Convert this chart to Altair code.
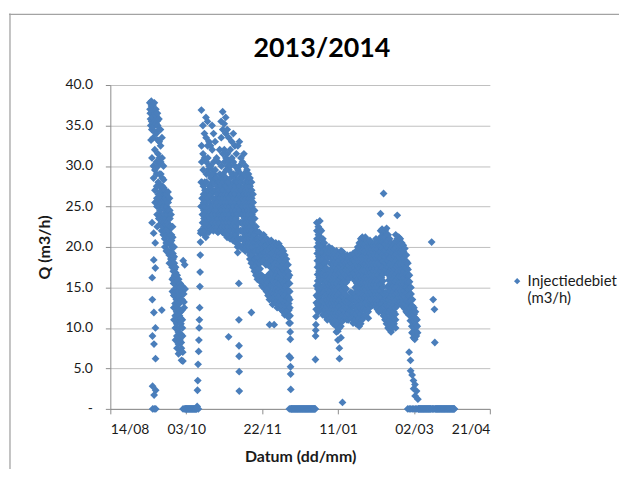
import altair as alt
import pandas as pd

title_text = "2013/2014"
series_name = "Injectiedebiet (m3/h)"
x_title = "Datum (dd/mm)"
y_title = "Q (m3/h)"
x_tick_dates = [(2013, 8, 14), (2013, 10, 3), (2013, 11, 22), (2014, 1, 11), (2014, 3, 2), (2014, 4, 21)]
y_tick_values = [0, 5, 10, 15, 20, 25, 30, 35, 40]

# readings per day (several per day), consecutive days from the start date
run1_start = "2013-09-09"
run1 = [
    [37.8, 37.0, 36.5, 35.8, 35.0, 33.2],
    [38.0, 37.4, 36.6, 35.5, 34.5, 31.0, 23.0, 16.2, 13.5, 9.0, 2.8, 0.0],
    [37.5, 36.8, 36.0, 34.8, 33.5, 30.0, 28.5, 21.7, 18.4, 11.9, 8.0, 1.7, 0.0],
    [37.8, 36.4, 35.5, 34.2, 32.0, 29.5, 27.0, 25.5, 20.5, 17.4, 10.0, 6.2, 2.3, 0.0],
    [37.0, 36.2, 35.2, 34.0, 30.5, 29.0, 27.5, 26.0, 25.0, 24.0, 22.5],
    [36.5, 35.6, 35.0, 33.2, 31.5, 30.0, 28.0, 26.5, 25.5, 25.0, 23.5],
    [35.8, 34.5, 33.0, 31.0, 29.0, 27.5, 26.8, 26.0, 24.5, 22.8],
    [34.5, 32.5, 30.5, 29.0, 27.5, 26.5, 25.5, 24.0, 23.0, 22.0, 12.2],
    [33.5, 31.0, 28.5, 27.5, 27.0, 26.0, 25.0, 23.5, 22.5, 21.5],
    [30.0, 28.3, 27.3, 26.5, 25.8, 25.0, 24.0, 23.0, 22.0, 21.0, 20.0],
    [27.0, 26.4, 26.0, 25.5, 24.5, 23.5, 22.8, 22.0, 20.5, 19.5],
    [26.5, 25.8, 25.0, 24.0, 23.0, 22.2, 21.5, 20.5, 19.5],
    [26.8, 25.5, 24.5, 23.5, 22.8, 22.0, 21.2, 20.5, 19.0, 18.0],
    [26.0, 24.5, 23.5, 22.5, 21.5, 20.5, 19.5, 18.5],
    [24.0, 22.5, 21.5, 20.8, 20.0, 19.0, 18.2, 17.5, 16.0, 14.5],
    [22.5, 21.2, 20.0, 19.2, 18.5, 17.8, 17.0, 16.2, 15.5, 14.0, 12.5, 11.0],
    [20.0, 18.8, 18.0, 17.2, 16.5, 15.5, 14.8, 14.2, 13.0, 11.5, 10.0, 8.5],
    [17.5, 16.8, 16.2, 15.5, 14.8, 14.5, 13.5, 12.8, 12.0, 10.5, 9.0, 7.5],
    [16.5, 15.8, 15.0, 14.5, 14.0, 13.2, 12.5, 11.8, 11.0, 9.5, 8.0, 6.8],
    [16.0, 15.2, 14.5, 13.8, 13.0, 12.2, 11.5, 10.8, 10.0, 8.5, 7.0],
    [15.5, 15.0, 14.0, 13.2, 12.0, 11.2, 10.5, 9.2, 8.2, 7.5, 6.0],
    [15.2, 14.5, 13.5, 12.2, 11.0, 10.0, 9.0, 7.0, 5.9, 0.0],
    [18.3, 15.0, 14.2, 13.2, 12.5, 0.0],
    [17.8, 14.8, 0.0, 0.0],
]

stop1_start = "2013-10-03"
stop1 = [
    [0, 0, 0], [0, 0, 0], [0, 0, 0], [0, 0, 0], [0, 0, 0], [0, 0, 0], [0, 0, 0],
]

run2_start = "2013-10-10"
run2 = [
    [0.0, 0.3, 2.3, 3.5, 5.5],
    [0.0, 7.1, 8.5, 10.0, 11.0, 12.5],
    [15.1, 16.9, 19.0, 20.6, 21.7, 22.0, 25.0, 28.0],
    [36.9, 32.5, 30.5, 28.0, 26.0, 25.0, 24.0, 23.0, 22.0],
    [35.0, 31.5, 29.5, 27.5, 26.5, 25.5, 24.5, 23.5, 22.5, 21.5],
    [34.0, 31.0, 28.0, 27.0, 26.0, 25.0, 24.0, 23.0, 22.0, 21.2],
    [36.0, 33.5, 30.5, 29.0, 28.0, 26.5, 25.5, 24.5, 23.5, 22.5],
    [35.5, 32.5, 31.0, 29.5, 27.0, 26.0, 24.8, 23.8, 22.8, 21.8],
    [33.0, 30.0, 29.0, 27.5, 26.5, 25.5, 24.5, 23.5, 22.5],
    [32.5, 30.0, 28.5, 27.5, 26.5, 25.0, 24.0, 23.0, 22.2],
    [35.0, 32.0, 29.5, 28.0, 27.0, 26.0, 25.0, 24.0, 23.0, 22.0],
    [34.0, 30.5, 29.0, 28.0, 26.8, 25.5, 24.5, 23.5, 22.5],
    [33.0, 29.5, 28.5, 27.0, 26.0, 25.0, 24.0, 23.0, 22.0],
    [31.0, 28.5, 27.5, 26.5, 25.5, 24.5, 23.5, 22.5, 21.8],
    [30.5, 28.0, 27.0, 26.0, 25.0, 24.0, 23.0, 22.0],
    [32.0, 29.0, 28.0, 27.0, 26.0, 25.0, 24.0, 23.0, 22.2],
    [35.5, 33.5, 30.0, 28.5, 27.5, 26.5, 25.5, 24.5, 23.5, 22.5, 21.8],
    [36.7, 34.5, 31.5, 29.0, 28.0, 27.0, 26.0, 25.0, 24.0, 23.0, 22.0],
    [35.2, 32.0, 30.5, 28.5, 27.5, 26.5, 25.5, 24.5, 23.5, 22.5, 21.5],
    [36.0, 34.0, 31.0, 29.5, 28.5, 27.5, 26.0, 25.0, 24.0, 23.0, 22.0, 21.2],
    [34.5, 31.5, 30.0, 28.0, 27.0, 26.5, 25.5, 24.5, 23.5, 22.5, 21.5, 8.9],
    [33.5, 30.5, 29.5, 28.0, 27.0, 26.0, 25.0, 24.0, 23.0, 22.0, 21.0],
    [32.0, 30.0, 28.5, 27.5, 26.5, 25.5, 24.5, 23.5, 22.5, 21.2],
    [33.0, 31.0, 29.0, 27.5, 26.5, 25.5, 24.5, 23.5, 22.5, 21.5, 20.8],
    [34.0, 30.5, 29.0, 28.0, 27.0, 26.0, 25.0, 24.0, 23.0, 22.0, 21.0],
    [32.5, 30.0, 28.5, 27.5, 26.5, 25.5, 24.5, 23.5, 22.5, 21.5, 20.5],
    [31.5, 29.0, 28.0, 27.0, 26.0, 25.0, 24.0, 23.0, 22.0, 21.0, 20.0, 19.3],
    [32.5, 29.5, 28.0, 27.0, 26.0, 25.0, 24.0, 23.0, 22.0, 21.0, 20.3, 15.5, 11.0, 7.8, 6.5, 4.6, 2.2],
    [33.0, 30.0, 28.5, 27.5, 26.5, 25.5, 24.5, 23.0, 22.0, 21.0, 20.0],
    [31.0, 29.0, 28.0, 27.0, 26.0, 25.0, 24.0, 23.0, 22.0, 21.0, 19.8],
    [30.5, 28.5, 27.0, 26.0, 25.0, 24.0, 23.0, 22.0, 21.0, 20.2],
    [31.5, 29.0, 27.5, 26.5, 25.5, 24.5, 23.5, 22.5, 21.5, 20.5, 19.5],
    [30.0, 28.0, 27.0, 26.0, 25.0, 24.0, 23.0, 22.0, 21.0, 20.0],
    [29.5, 28.5, 27.5, 26.5, 25.5, 24.5, 23.5, 22.5, 21.5, 20.5, 19.5],
    [29.0, 28.0, 27.0, 26.0, 25.0, 24.0, 23.0, 22.0, 21.0, 20.0, 19.0, 18.5],
    [28.5, 27.5, 26.5, 25.5, 24.5, 23.5, 22.5, 21.5, 20.5, 19.5, 18.5, 18.0, 11.9],
    [28.0, 27.0, 26.0, 25.0, 24.0, 23.0, 22.0, 21.0, 20.0, 19.0, 18.0, 17.5],
    [26.5, 25.5, 24.5, 23.5, 22.5, 21.5, 20.5, 19.5, 18.5, 17.5, 17.0],
    [24.5, 23.5, 22.5, 21.5, 20.5, 19.5, 18.5, 17.5, 16.5],
    [22.5, 21.8, 21.0, 20.2, 19.5, 18.7, 18.0, 17.2, 16.5, 16.0],
    [21.8, 21.0, 20.3, 19.5, 18.8, 18.0, 17.3, 16.5, 16.0],
    [21.8, 21.0, 20.3, 19.5, 18.8, 18.0, 17.3, 16.5, 15.7],
    [21.2, 20.5, 19.8, 19.0, 18.3, 16.5, 15.8, 15.2],
    [21.0, 20.3, 19.6, 18.8, 18.2, 16.3, 15.6, 15.0],
    [21.5, 20.7, 20.0, 19.3, 18.5, 16.2, 15.5, 14.8],
    [20.8, 20.1, 19.4, 18.7, 17.8, 16.0, 15.3, 14.5],
    [21.0, 20.3, 19.6, 18.8, 18.0, 16.4, 15.6, 14.8, 14.0],
    [20.8, 20.1, 19.4, 18.6, 17.8, 16.6, 15.8, 15.0, 14.2, 13.5, 10.4],
    [20.5, 19.8, 19.0, 18.2, 17.5, 16.8, 16.0, 15.2, 14.4, 13.6],
    [20.8, 20.0, 19.2, 18.4, 17.6, 16.8, 16.0, 15.2, 14.4, 13.6, 12.9],
    [20.5, 19.8, 19.0, 18.2, 17.4, 16.6, 15.8, 15.0, 14.2, 13.4, 10.4],
    [20.2, 19.5, 18.7, 17.9, 17.1, 16.3, 15.5, 14.7, 13.9, 13.1],
    [20.5, 19.7, 18.9, 18.1, 17.3, 16.5, 15.7, 14.9, 14.1, 13.3, 12.5],
    [20.2, 19.4, 18.6, 17.8, 17.0, 16.2, 15.4, 14.6, 13.8, 13.0],
    [20.4, 19.6, 18.8, 18.0, 17.2, 16.4, 15.6, 14.8, 14.0, 13.2, 12.4],
    [20.0, 19.2, 18.4, 17.6, 16.8, 16.0, 15.2, 14.4, 13.6, 12.8, 12.2],
    [19.8, 19.0, 18.2, 17.4, 16.6, 15.8, 15.0, 14.2, 13.4, 12.6, 12.0],
    [19.5, 18.7, 17.9, 17.1, 16.3, 15.5, 14.7, 13.9, 13.1, 12.3, 11.6],
    [19.0, 18.2, 17.4, 16.6, 15.8, 15.0, 14.2, 13.4, 12.6, 12.0],
    [18.5, 17.7, 16.9, 16.1, 15.3, 14.5, 13.7, 12.9, 12.1, 11.4],
    [17.8, 17.0, 16.2, 15.4, 14.6, 13.8, 13.0, 12.2, 11.4, 10.6, 6.5, 0.0],
    [16.5, 15.5, 14.5, 13.5, 12.5, 11.5, 10.6, 9.5, 8.6, 6.3, 5.2, 4.3, 2.4, 0.0],
]

stop2_start = "2013-12-11"
stop2 = [
    [0, 0, 0], [0, 0, 0], [0, 0, 0], [0, 0, 0], [0, 0, 0], [0, 0, 0], [0, 0, 0], [0, 0, 0],
    [0, 0, 0], [0, 0, 0], [0, 0, 0], [0, 0, 0], [0, 0, 0], [0, 0, 0], [0, 0, 0], [0, 0, 0],
]

run3_start = "2013-12-27"
run3 = [
    [0.0, 6.1, 9.0, 9.7, 10.4, 11.4, 12.3, 13.1, 14.0, 15.2],
    [23.0, 22.0, 21.0, 20.0, 19.2, 18.3, 17.5, 16.6, 15.8, 14.8, 13.8, 12.8, 12.0],
    [22.5, 21.5, 20.5, 19.6, 18.8, 17.9, 17.0, 16.2, 15.3, 14.5, 13.6, 12.8],
    [23.2, 22.2, 21.2, 20.2, 19.3, 18.5, 17.6, 16.8, 15.9, 15.0, 14.1, 13.2, 12.4],
    [22.0, 21.0, 20.1, 19.3, 18.4, 17.6, 16.7, 15.9, 15.0, 14.2, 13.3, 12.4, 11.6],
    [21.0, 20.1, 19.3, 18.5, 17.6, 16.8, 16.0, 15.1, 14.3, 13.5, 12.6, 11.8],
    [20.5, 19.7, 18.9, 18.0, 17.2, 16.4, 15.5, 14.7, 13.9, 13.0, 12.2, 11.4],
    [19.8, 19.0, 18.2, 17.4, 16.6, 15.8, 15.0, 14.2, 13.4, 12.6, 11.8, 11.0],
    [19.5, 18.7, 16.3, 15.5, 14.7, 13.9, 13.1, 12.3, 11.5],
    [20.0, 19.2, 16.8, 16.0, 15.2, 14.4, 13.6, 12.8, 12.0, 11.2],
    [19.5, 18.7, 17.9, 17.1, 16.3, 15.5, 14.7, 13.9, 13.1, 12.3, 11.5, 10.8],
    [19.8, 19.0, 18.2, 17.4, 16.6, 15.8, 15.0, 14.2, 13.4, 12.6, 11.8, 11.0, 10.5],
    [19.5, 18.7, 17.9, 17.1, 16.3, 15.5, 14.7, 13.9, 13.1, 12.3, 11.5, 10.8],
    [19.0, 18.2, 17.4, 16.6, 15.8, 15.0, 14.2, 13.4, 12.6, 11.8, 11.0, 10.2, 9.5],
    [19.5, 18.7, 17.9, 17.1, 16.3, 15.5, 14.7, 13.9, 13.1, 12.3, 11.5, 10.5, 9.6, 8.5],
    [19.0, 18.2, 17.4, 16.6, 15.8, 15.0, 14.2, 13.4, 12.6, 11.8, 11.0, 10.0, 7.5, 6.2],
    [19.2, 18.4, 17.6, 16.8, 16.0, 15.2, 14.4, 13.6, 12.8, 12.0, 11.2, 10.2, 8.8],
    [19.5, 18.7, 17.9, 17.1, 16.3, 15.5, 14.7, 13.9, 13.1, 12.3, 11.5, 10.8, 0.8],
    [19.4, 18.6, 17.8, 17.0, 16.2, 15.4, 14.6, 13.8, 13.0, 12.2, 11.4],
    [19.0, 18.2, 17.4, 16.6, 15.8, 15.0, 14.2, 13.4, 12.6, 11.8, 11.2],
    [18.8, 18.0, 17.2, 16.4, 15.6, 14.8, 14.0, 13.2, 12.4, 11.6, 11.0],
    [19.0, 18.2, 17.4, 16.6, 13.4, 12.6, 11.8, 11.0],
    [18.5, 17.7, 16.9, 16.1, 13.7, 12.9, 12.1, 11.3],
    [19.0, 18.2, 17.4, 16.6, 14.4, 13.6, 12.8, 12.0, 11.2],
    [18.8, 18.0, 17.2, 16.4, 14.3, 13.5, 12.7, 11.9, 11.1, 10.6],
    [19.2, 18.4, 17.6, 16.8, 16.0, 14.2, 13.4, 12.6, 11.8, 11.0],
    [19.0, 18.2, 17.4, 16.6, 15.8, 15.0, 14.2, 13.4, 12.6, 11.8, 11.0, 10.5],
    [19.5, 18.7, 17.9, 17.1, 16.3, 15.5, 14.7, 13.9, 13.1, 12.3, 11.5, 10.8],
    [20.0, 19.2, 18.4, 17.6, 16.8, 16.0, 15.2, 14.4, 13.6, 12.8, 12.0, 11.2, 10.2],
    [20.5, 19.7, 18.9, 18.1, 17.3, 16.5, 15.7, 14.9, 14.1, 13.3, 12.5, 11.7, 10.5],
    [21.0, 20.2, 19.4, 18.6, 17.8, 17.0, 16.2, 15.4, 14.6, 13.8, 13.0, 12.2, 11.0],
    [21.2, 20.4, 19.6, 18.8, 18.0, 17.2, 16.4, 15.6, 14.8, 14.0, 13.2, 12.4, 11.5],
    [21.0, 20.2, 19.4, 18.6, 17.8, 17.0, 16.2, 15.4, 14.6, 13.8, 13.0, 12.2, 11.5],
    [21.2, 20.4, 19.6, 18.8, 18.0, 17.2, 16.4, 15.6, 14.8, 14.0, 13.2, 12.4],
    [20.8, 20.0, 19.2, 18.4, 17.6, 16.8, 16.0, 15.2, 14.4, 13.6, 12.8, 12.0, 11.2],
    [20.5, 19.7, 18.9, 18.1, 17.3, 16.5, 15.7, 14.9, 14.1, 13.3, 12.5],
    [20.8, 20.0, 19.2, 18.4, 17.6, 16.8, 16.0, 15.2, 14.4, 13.6, 12.8],
    [20.5, 19.7, 18.9, 18.1, 17.3, 16.5, 15.7, 14.9, 14.1, 13.3, 12.8],
    [20.2, 19.4, 18.6, 17.8, 17.0, 16.2, 15.4, 14.6, 13.8, 13.0],
    [20.5, 19.7, 18.9, 18.1, 17.3, 16.5, 15.7, 14.9, 14.1, 13.3, 12.6],
    [21.0, 20.2, 19.4, 18.6, 17.8, 17.0, 16.2, 15.4, 14.6, 13.8, 13.0, 12.3],
    [20.5, 19.7, 18.9, 18.1, 17.3, 16.5, 15.7, 14.9, 14.1, 13.3, 12.5, 12.0],
    [21.0, 20.2, 19.4, 18.6, 17.8, 17.0, 16.2, 15.4, 14.6, 13.8, 13.0, 12.2],
    [24.1, 22.0, 21.0, 20.2, 19.4, 18.6, 17.8, 17.0, 16.2, 15.4, 14.6, 13.8, 13.0, 12.0],
    [22.2, 21.4, 20.6, 19.8, 19.0, 18.2, 17.4, 16.6, 15.8, 15.0, 14.2, 13.4, 12.6, 11.5],
    [26.6, 22.0, 21.2, 20.4, 19.6, 18.8, 18.0, 17.2, 14.2, 13.4, 12.6, 11.8, 11.0],
    [22.0, 21.2, 20.4, 19.6, 18.8, 18.0, 17.2, 14.4, 13.6, 12.8, 12.0, 11.2, 10.5],
    [22.3, 21.5, 20.7, 19.9, 19.1, 18.3, 17.5, 16.7, 15.1, 14.3, 13.5, 12.7, 11.9, 11.0, 10.0],
    [21.5, 20.7, 19.9, 19.1, 18.3, 17.5, 16.7, 15.9, 15.1, 14.3, 13.5, 12.7, 11.9, 11.0, 10.2, 9.8],
    [21.0, 20.2, 19.4, 18.6, 17.8, 17.0, 16.2, 15.4, 14.6, 13.8, 13.0, 12.2, 11.4, 10.6, 9.5],
    [20.5, 19.7, 18.9, 18.1, 17.3, 16.5, 15.7, 14.9, 14.1, 13.3, 12.5, 11.7, 10.9, 10.0],
    [20.0, 19.2, 18.4, 17.6, 16.8, 16.0, 15.2, 14.4, 13.6, 12.8, 12.0, 11.2, 10.5],
    [20.5, 19.7, 18.9, 18.1, 17.3, 16.5, 15.7, 14.9, 14.1, 13.3, 12.5, 11.7, 11.0, 10.0],
    [21.5, 20.7, 19.9, 19.1, 18.3, 17.5, 16.7, 15.9, 15.1, 14.3, 13.5, 12.7],
    [23.9, 21.0, 20.2, 19.4, 18.6, 17.8, 17.0, 16.2, 15.4, 14.6, 13.8, 13.0],
    [21.2, 20.4, 19.6, 18.8, 18.0, 17.2, 16.4, 15.6, 14.8, 14.0, 13.2],
    [21.0, 20.2, 19.4, 18.6, 17.8, 17.0, 16.2, 15.4, 14.6, 13.8, 13.0],
    [20.5, 19.7, 18.9, 18.1, 17.3, 16.5, 15.7, 14.9, 14.1, 13.3, 12.6],
    [20.2, 19.4, 18.6, 17.8, 17.0, 16.2, 15.4, 14.6, 13.8, 13.0, 12.4],
    [19.8, 19.0, 18.2, 17.4, 16.6, 15.8, 15.0, 14.2, 13.4, 12.6, 12.0],
    [19.0, 18.2, 17.4, 16.6, 15.8, 15.0, 14.2, 13.4, 12.6, 11.8, 0.0],
    [18.0, 17.2, 16.4, 15.6, 14.8, 14.0, 13.2, 12.4, 11.6, 7.0, 0.0],
    [16.5, 15.7, 14.9, 14.1, 13.3, 12.5, 11.7, 10.9, 6.0, 4.7, 0.0],
    [15.0, 14.2, 13.4, 12.6, 11.8, 11.0, 10.2, 9.4, 4.2, 0.0],
    [13.5, 12.7, 11.9, 11.1, 10.3, 9.5, 8.8, 3.5, 2.5, 0.0],
    [12.5, 11.7, 10.9, 10.1, 9.3, 8.6, 3.0, 1.6, 0.0],
    [12.0, 11.2, 10.4, 9.6, 9.0, 2.2, 0.0],
    [11.0, 10.2, 9.4, 1.2, 0.0],
]

stop3_start = "2014-03-05"
stop3 = [
    [0, 0, 0], [0, 0, 0], [0, 0, 0], [0, 0, 0], [0, 0, 0], [0, 0, 0], [0, 0, 0], [0, 0, 0],
    [0, 0, 20.6], [0, 0, 13.5], [0, 0, 12.3, 8.2], [0, 0, 0], [0, 0, 0], [0, 0, 0], [0, 0, 0],
    [0, 0, 0], [0, 0, 0], [0, 0, 0], [0, 0, 0], [0, 0, 0], [0, 0, 0], [0, 0, 0], [0, 0, 0], [0, 0, 0],
]

periods = [
    (run1_start, run1), (stop1_start, stop1), (run2_start, run2),
    (stop2_start, stop2), (run3_start, run3), (stop3_start, stop3),
]

rows = []
for start, days in periods:
    t0 = pd.Timestamp(start)
    for i, vals in enumerate(days):
        n = len(vals)
        for j, v in enumerate(vals):
            t = t0 + pd.Timedelta(days=i) + pd.Timedelta(minutes=int(1440 * j / n))
            rows.append({"t": t.strftime("%Y-%m-%dT%H:%M:%S"), "q": v, "s": series_name})
df = pd.DataFrame(rows)

def dt(y, m, d):
    return alt.DateTime(year=y, month=m, date=d)

FONT = "Lato"
TXT = "#1a1a1a"
AX = "#8c8c8c"

points = alt.Chart(df).mark_point(
    shape="diamond", filled=True, size=62, opacity=1, strokeWidth=0
).encode(
    x=alt.X(
        "t:T",
        scale=alt.Scale(domain=[dt(2013, 8, 14), dt(2014, 4, 21)]),
        axis=alt.Axis(
            values=[dt(*d) for d in x_tick_dates], format="%d/%m", title=x_title,
            grid=False, domainColor=AX, tickColor=AX, tickSize=5,
            labelFont=FONT, labelFontSize=14, labelColor=TXT, labelPadding=9,
            titleFont=FONT, titleFontSize=16, titleFontWeight="bold", titleColor=TXT,
            titleX=191, titleY=48, titleBaseline="middle",
        ),
    ),
    y=alt.Y(
        "q:Q",
        scale=alt.Scale(domain=[0, 40]),
        axis=alt.Axis(
            values=y_tick_values,
            labelExpr="datum.value == 0 ? '-' : format(datum.value, '.1f')",
            title=y_title, grid=True, gridColor="#bfbfbf", gridWidth=1,
            domainColor=AX, tickColor=AX, tickSize=5,
            labelFont=FONT, labelFontSize=14, labelColor=TXT, labelPadding=13,
            titleFont=FONT, titleFontSize=16, titleFontWeight="bold", titleColor=TXT,
            titleX=-66, titleY=163, titleAngle=-90, titleBaseline="middle",
        ),
    ),
    color=alt.Color(
        "s:N",
        scale=alt.Scale(range=["#4a7ebb"]),
        legend=alt.Legend(
            title=None, orient="none", legendX=402, legendY=190, padding=0,
            symbolType="diamond", symbolSize=40, labelOffset=3,
            labelFont=FONT, labelFontSize=15, labelColor=TXT,
            labelExpr="['Injectiedebiet', '(m3/h)']", labelBaseline="middle",
        ),
    ),
)

frame_src = pd.DataFrame({"k": [0]})
frame_top = alt.Chart(frame_src).mark_rule(color="#a3a3a3", strokeWidth=1.3).encode(
    x=alt.value(-102), x2=alt.value(520), y=alt.value(-71)
)
frame_left = alt.Chart(frame_src).mark_rule(color="#a3a3a3", strokeWidth=1.3).encode(
    x=alt.value(-101), y=alt.value(-72), y2=alt.value(400)
)

chart = alt.layer(frame_top, frame_left, points).properties(
    width=382,
    height=326,
    autosize=alt.AutoSizeParams(type="none"),
    padding={"left": 103, "top": 76, "right": 130, "bottom": 59},
    title=alt.TitleParams(
        title_text, font=FONT, fontSize=27, fontWeight="bold", color="black",
        anchor="middle", dx=22, offset=-50,
    ),
).configure_view(stroke=None)

chart.save("out.html", embed_options={"renderer": "svg", "actions": False})
